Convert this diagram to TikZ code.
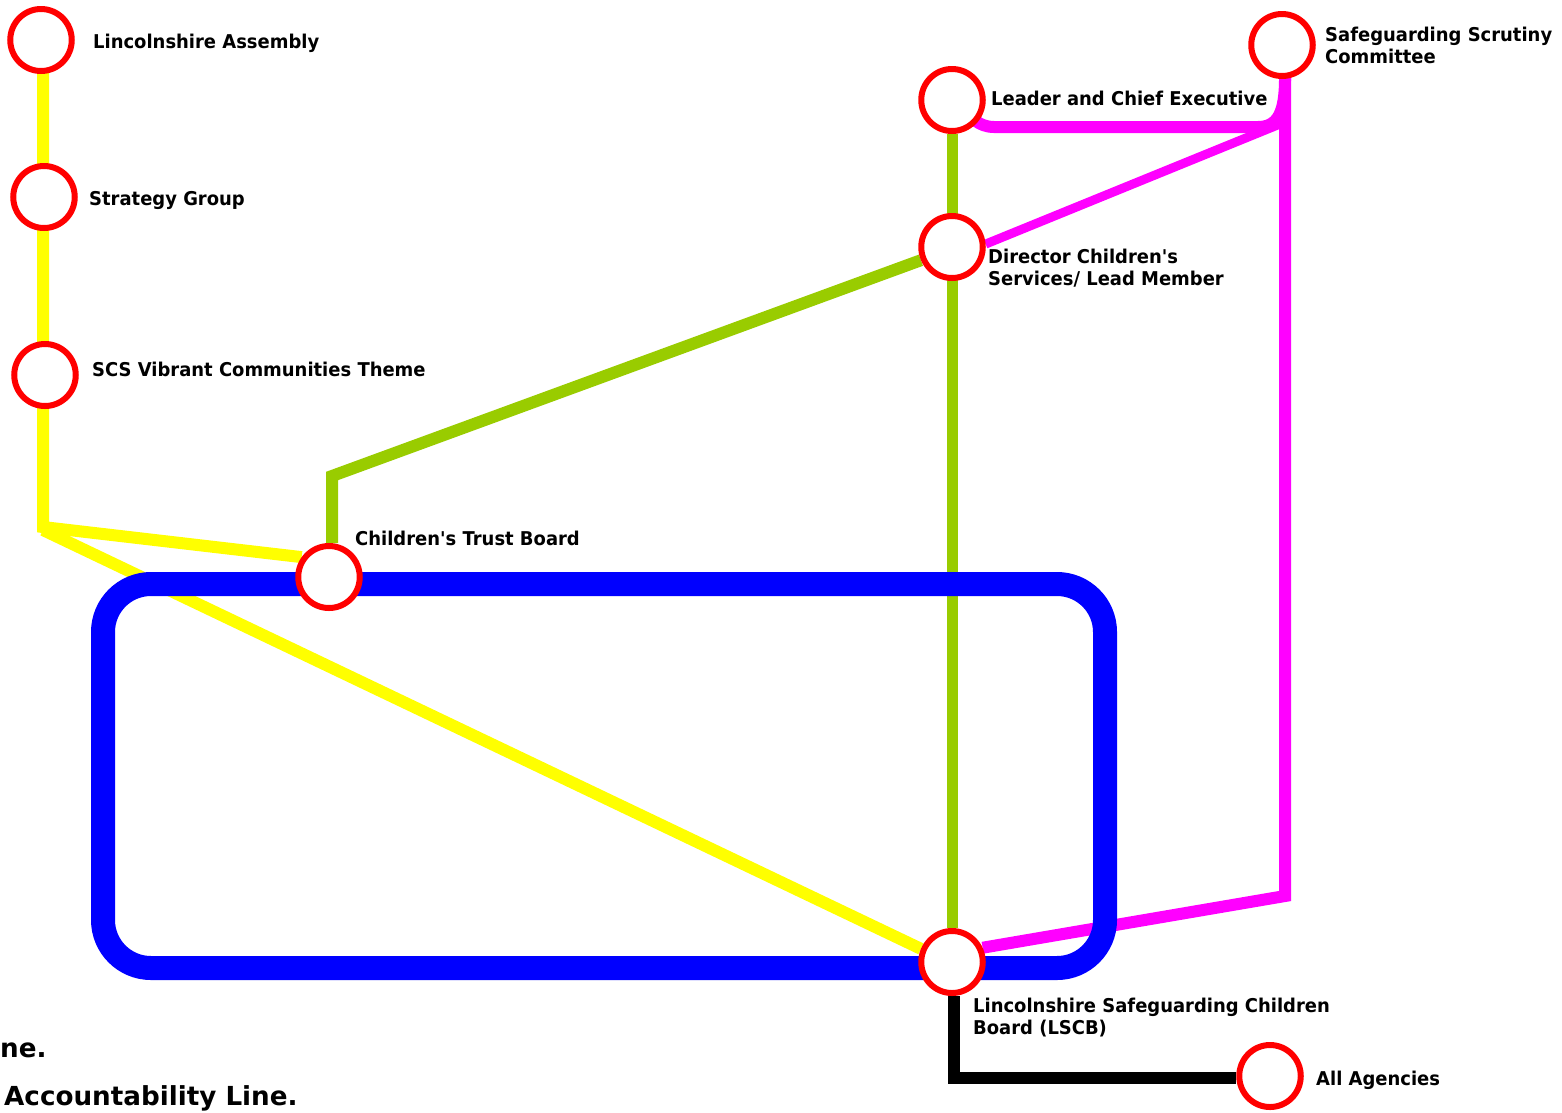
\documentclass[tikz,border=0pt]{standalone}
\usepackage{fontspec}
\setmainfont{DejaVu Sans}
\usetikzlibrary{shapes.geometric,backgrounds}
\definecolor{lyellow}{RGB}{255,255,0}
\definecolor{lgreen}{RGB}{153,204,0}
\definecolor{lmag}{RGB}{255,0,255}
\definecolor{lblue}{RGB}{0,0,255}
\newfontfamily\lblfont[FakeStretch=0.945]{DejaVu Sans Bold}
\tikzset{
 stop/.style={draw=red,line width=6pt,fill=white,ellipse,minimum width=61.5pt,minimum height=62pt,inner sep=0pt},
 lbl/.style={anchor=west,align=left,inner sep=0pt,font=\lblfont\fontsize{19}{22}\selectfont,text=black},
 note/.style={anchor=west,inner sep=0pt,font=\fontsize{26.2}{30}\selectfont\bfseries},
 yel/.style={draw=lyellow,line width=12pt,line join=miter},
 grn/.style={draw=lgreen,line width=12pt,line join=miter},
 mag/.style={draw=lmag,line width=12pt,line join=miter},
 blk/.style={draw=black,line width=12pt,line join=miter},
 ring/.style={draw=lblue,line width=24pt,rounded corners=48pt},
}
\begin{document}
\begin{tikzpicture}[x=1pt,y=-1pt]
\useasboundingbox (0,0) rectangle (1562,1112);
\node[stop] (assembly) at (41,40) {};
\node[stop] (strategy) at (44,197) {};
\node[stop] (scs) at (45,375) {};
\node[stop] (ctb) at (329,577) {};
\node[stop] (leader) at (952,100) {};
\node[stop] (director) at (952,247) {};
\node[stop] (scrutiny) at (1282,45) {};
\node[stop] (lscb) at (952,962) {};
\node[stop] (agencies) at (1270,1076) {};
\coordinate (ytop) at (43,60);
\coordinate (ybend) at (43,527);
\coordinate (ystart) at (43,530);
\coordinate (gbend) at (332,476);
\coordinate (mjoin) at (1285,122);
\coordinate (mtop) at (1285,70);
\coordinate (mbend) at (1285,896);
\coordinate (bbend) at (954,1078);
\begin{pgfonlayer}{background}
\draw[yel] (ytop) -- (ybend) -- (ctb.144);
\draw[yel] (ystart) -- (lscb.157);
\draw[grn] (ctb.north -| gbend) -- (gbend) -- (director.203);
\draw[grn,line width=11pt] (leader) -- (lscb);
\draw[mag] (leader) .. controls (970,115) and (978,127) .. (994,127) -- (1258,127) .. controls (1278,127) and (1285,112) .. (1285,78);
\draw[mag] (mtop) -- (mbend) -- (lscb.25);
\draw[mag,line width=9pt] (director.5) -- (mjoin);
\draw[blk] (lscb.south -| bbend) -- (bbend) -- (bbend -| agencies.west);
\draw[ring] (103,584) rectangle (1105,968);
\end{pgfonlayer}
\node[lbl] (t1) at (93,43.5) {Lincolnshire Assembly};
\node[lbl] (t2) at (89,200) {Strategy Group};
\node[lbl] (t3) at (92,369) {SCS Vibrant Communities Theme};
\node[lbl] (t4) at (355,538) {Children's Trust Board};
\node[lbl] (t5) at (991,98) {Leader and Chief Executive};
\node[lbl] (t6) at (988,268.5) {Director Children's\\Services/ Lead Member};
\node[lbl] (t7) at (1325,45) {Safeguarding Scrutiny\\Committee};
\node[lbl] (t8) at (973,1017.5) {Lincolnshire Safeguarding Children\\Board (LSCB)};
\node[lbl] (t9) at (1316,1080) {All Agencies};
\node[note] (n1) at (0,1050) {ne.};
\node[note] (n2) at (4,1098) {Accountability Line.};
\end{tikzpicture}
\end{document}
